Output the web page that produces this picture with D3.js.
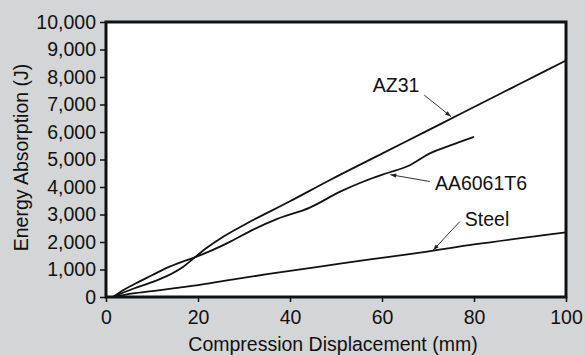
<!DOCTYPE html>
<html lang="en">
	<head>
		<meta charset="utf-8">
		<title>Energy absorption vs compression displacement</title>
		<script type="text/javascript" src="https://cdn.jsdelivr.net/npm/d3@7"></script>
		<style type="text/css">
			body { margin: 0; background: #d4d5d7; }
			svg { display: block; }
			text { font-family: "Liberation Sans", Arial, Helvetica, sans-serif; fill: #111; }
		</style>
	</head>
	<body>
		<script type="text/javascript">
			var w = 585;
			var h = 356;

			// data (displacement mm, energy J)
			var az31 = [[1.5, 0], [5.9, 300], [10, 540], [13.2, 760], [16.8, 1103], [19.3, 1443],
						[22, 1800], [24.8, 2120], [30, 2620], [40, 3480], [48.7, 4255],
						[60, 5212], [70, 6059], [77, 6652], [90, 7753], [100, 8600]];
			var aa6061 = [[1.5, 0], [4, 270], [7, 540], [10, 790], [13.2, 1060], [16.5, 1280],
						[19.3, 1443], [24.8, 1830], [27.7, 2073], [32, 2450], [37.1, 2830],
						[44.3, 3250], [50.9, 3830], [56, 4200], [61, 4500], [65.7, 4764],
						[70.4, 5224], [75, 5520], [80, 5820]];
			var steel = [[1.5, 0], [5.9, 130], [10, 215], [15, 320], [20.4, 440], [25, 565],
						[35, 830], [46.5, 1103], [57, 1360], [68.3, 1612], [80, 1910], [100, 2350]];

			var xTicks = [0, 20, 40, 60, 80, 100];
			var yTicks = d3.range(0, 10001, 1000);

			// annotations: label, text position, arrow start, arrow tip (data units)
			var notes = [
				{ label: "AZ31", tx: 58, ty: 7450, from: [69.2, 7340], to: [75.0, 6560] },
				{ label: "AA6061T6", tx: 71.5, ty: 3880, from: [70.4, 4200], to: [61.8, 4450] },
				{ label: "Steel", tx: 78.0, ty: 2600, from: [76.9, 2740], to: [71.1, 1700] }
			];

			var margin = { top: 22, right: 19, bottom: 59, left: 106 };
			var pw = w - margin.left - margin.right;
			var ph = h - margin.top - margin.bottom;

			var xScale = d3.scaleLinear().domain([0, 100]).range([0, pw]);
			var yScale = d3.scaleLinear().domain([0, 10000]).range([ph, 0]);

			var svg = d3.select("body")
						.append("svg")
						.attr("width", w)
						.attr("height", h);

			svg.append("defs").append("marker")
				.attr("id", "head")
				.attr("viewBox", "0 0 10 10")
				.attr("refX", 10)
				.attr("refY", 5)
				.attr("markerWidth", 7)
				.attr("markerHeight", 6)
				.attr("orient", "auto")
				.append("path")
				.attr("d", "M0,1.5 L10,5 L0,8.5 Z")
				.attr("fill", "#222");

			var g = svg.append("g")
						.attr("transform", "translate(" + margin.left + "," + margin.top + ")");

			//plot area
			g.append("rect")
				.attr("width", pw)
				.attr("height", ph)
				.attr("fill", "white");

			//axes
			var fmt = d3.format(",");
			var yAxis = g.append("g")
						.call(d3.axisLeft(yScale).tickValues(yTicks).tickFormat(fmt).tickSize(6).tickPadding(4));
			var xAxis = g.append("g")
						.attr("transform", "translate(0," + ph + ")")
						.call(d3.axisBottom(xScale).tickValues(xTicks).tickSize(5).tickPadding(8));
			[xAxis, yAxis].forEach(function(a) {
				a.select(".domain").remove();
				a.selectAll("line").attr("stroke", "#111").attr("stroke-width", 1.5);
				a.selectAll("text")
					.attr("font-family", "\"Liberation Sans\", Arial, sans-serif")
					.attr("font-size", "19.5px")
					.attr("fill", "#111");
			});

			//curves
			var line = d3.line()
						.x(function(d) { return xScale(d[0]); })
						.y(function(d) { return yScale(d[1]); })
						.curve(d3.curveMonotoneX);
			[az31, aa6061, steel].forEach(function(s) {
				g.append("path")
					.attr("d", line(s))
					.attr("fill", "none")
					.attr("stroke", "#111")
					.attr("stroke-width", 1.8);
			});

			//frame
			g.append("rect")
				.attr("width", pw)
				.attr("height", ph)
				.attr("fill", "none")
				.attr("stroke", "#111")
				.attr("stroke-width", 3);

			//annotations
			notes.forEach(function(n) {
				g.append("line")
					.attr("x1", xScale(n.from[0]))
					.attr("y1", yScale(n.from[1]))
					.attr("x2", xScale(n.to[0]))
					.attr("y2", yScale(n.to[1]))
					.attr("stroke", "#333")
					.attr("stroke-width", 1)
					.attr("marker-end", "url(#head)");
				g.append("text")
					.attr("x", xScale(n.tx))
					.attr("y", yScale(n.ty))
					.attr("font-size", "19.5px")
					.text(n.label);
			});

			//axis titles
			svg.append("text")
				.attr("x", margin.left + pw / 2 - 3)
				.attr("y", 351)
				.attr("text-anchor", "middle")
				.attr("font-size", "19.5px")
				.text("Compression Displacement (mm)");
			svg.append("text")
				.attr("transform", "translate(28," + (margin.top + ph / 2 - 2) + ") rotate(-90)")
				.attr("text-anchor", "middle")
				.attr("font-size", "19.5px")
				.text("Energy Absorption (J)");
		</script>
	</body>
</html>
